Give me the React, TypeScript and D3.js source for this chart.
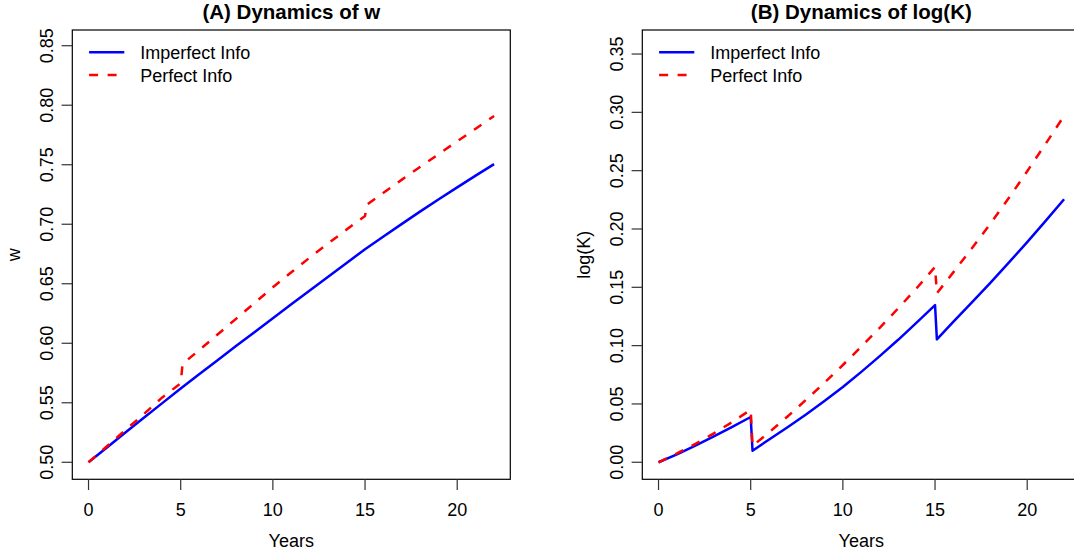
import React from "react";
import * as d3 from "d3";

// ---------- data ----------
const yearsSmooth = [0, 1, 2, 3, 4, 5, 6, 7, 8, 9, 10, 11, 12, 13, 14, 15, 16, 17, 18, 19, 20, 21, 22];
const yearsJump = [0, 1, 2, 3, 4, 5, 5.1, 6, 7, 8, 9, 10, 11, 12, 13, 14, 15, 15.1, 16, 17, 18, 19, 20, 21, 22];

const imperfectW = [0.5, 0.5125, 0.525, 0.5374, 0.5497, 0.562, 0.5739, 0.5858, 0.5976, 0.6093, 0.621, 0.6327,
  0.6443, 0.6559, 0.6675, 0.679, 0.6897, 0.7003, 0.7108, 0.721, 0.731, 0.7408, 0.7505];
const perfectW = [0.5, 0.5135, 0.527, 0.5405, 0.5545, 0.5664, 0.5826, 0.5942, 0.6074, 0.6205, 0.6338, 0.647,
  0.6596, 0.672, 0.6839, 0.6955, 0.707, 0.7165, 0.7265, 0.7375, 0.7483, 0.759, 0.7697, 0.7803, 0.791];

const imperfectK = [0, 0.0068, 0.0143, 0.0222, 0.0304, 0.0388, 0.0099, 0.0195, 0.03, 0.041, 0.0525, 0.0645,
  0.0775, 0.091, 0.105, 0.1197, 0.1348, 0.1054, 0.1205, 0.137, 0.1538, 0.1711, 0.1888, 0.2069, 0.2255];
const perfectK = [0, 0.0076, 0.0158, 0.0248, 0.0345, 0.045, 0.014, 0.0257, 0.0393, 0.0535, 0.0682, 0.0834,
  0.0991, 0.1153, 0.132, 0.1492, 0.1675, 0.1449, 0.163, 0.1835, 0.2045, 0.2265, 0.2495, 0.273, 0.297];

const xTicks = [0, 5, 10, 15, 20];
const wTicks = [0.5, 0.55, 0.6, 0.65, 0.7, 0.75, 0.8, 0.85];
const kTicks = [0, 0.05, 0.1, 0.15, 0.2, 0.25, 0.3, 0.35];
const legendLabels = ["Imperfect Info", "Perfect Info"];

const FONT = "'Liberation Sans', Arial, Helvetica, sans-serif";
const TOP = 30;
const BOTTOM = 479.3;
const PLOT_W = 438;

type Series = { x: number[]; y: number[]; color: string; dash?: string };

function Panel(props: {
  left: number;
  title: string;
  ylab: string;
  yDomain: [number, number];
  yTicks: number[];
  series: Series[];
}) {
  const { left, title, ylab, yDomain, yTicks, series } = props;
  const x = d3.scaleLinear().domain([-0.88, 22.88]).range([left, left + PLOT_W]);
  const y = d3.scaleLinear().domain(yDomain).range([BOTTOM, TOP]);
  const line = d3
    .line<[number, number]>()
    .x((d) => x(d[0]))
    .y((d) => y(d[1]))
    .curve(d3.curveLinear);
  const cx = x(11);
  const cy = (TOP + BOTTOM) / 2;
  const clipId = "clip" + Math.round(left);
  return (
    <g>
      <defs>
        <clipPath id={clipId}>
          <rect x={left} y={TOP} width={PLOT_W} height={BOTTOM - TOP} />
        </clipPath>
      </defs>
      <text x={cx} y={19} textAnchor="middle" fontFamily={FONT} fontWeight="bold" fontSize={20.5}>
        {title}
      </text>
      <g clipPath={`url(#${clipId})`}>
        {series.map((s, i) => (
          <path
            key={i}
            d={line(s.x.map((t, j) => [t, s.y[j]] as [number, number])) || ""}
            fill="none"
            stroke={s.color}
            strokeWidth={2.5}
            strokeDasharray={s.dash}
            strokeLinejoin="round"
          />
        ))}
      </g>
      <rect x={left} y={TOP} width={PLOT_W} height={BOTTOM - TOP} fill="none" stroke="#000" strokeWidth={1.2} />
      {xTicks.map((t) => (
        <g key={"x" + t}>
          <line x1={x(t)} x2={x(t)} y1={BOTTOM} y2={BOTTOM + 10.7} stroke="#333" strokeWidth={1.2} />
          <text x={x(t)} y={515.5} textAnchor="middle" fontFamily={FONT} fontSize={18}>
            {t}
          </text>
        </g>
      ))}
      {yTicks.map((v) => (
        <g key={"y" + v}>
          <line x1={left - 10.7} x2={left} y1={y(v)} y2={y(v)} stroke="#333" strokeWidth={1.2} />
          <text
            transform={`translate(${left - 19.5},${y(v)}) rotate(-90)`}
            textAnchor="middle"
            fontFamily={FONT}
            fontSize={18}
          >
            {v.toFixed(2)}
          </text>
        </g>
      ))}
      <text x={cx} y={547} textAnchor="middle" fontFamily={FONT} fontSize={18}>
        Years
      </text>
      <text transform={`translate(${left - 52},${cy}) rotate(-90)`} textAnchor="middle" fontFamily={FONT} fontSize={18}>
        {ylab}
      </text>
      {series.map((s, i) => {
        const ly = 52.3 + i * 22.7;
        return (
          <g key={"lg" + i}>
            <line x1={left + 16.8} x2={left + 52} y1={ly} y2={ly} stroke={s.color} strokeWidth={2.5} strokeDasharray={s.dash} />
            <text x={left + 68} y={ly + 6.5} fontFamily={FONT} fontSize={18}>
              {legendLabels[i]}
            </text>
          </g>
        );
      })}
    </g>
  );
}

export default function App() {
  const dash = "9 9.5";
  return (
    <svg
      width={1074}
      height={554}
      viewBox="0 0 1074 554"
      style={{ position: "absolute", left: 0, top: 0, background: "#fff" }}
    >
      <rect width={1074} height={554} fill="#fff" />
      <Panel
        left={72.3}
        title="(A) Dynamics of w"
        ylab="w"
        yDomain={[0.4857, 0.8632]}
        yTicks={wTicks}
        series={[
          { x: yearsSmooth, y: imperfectW, color: "#0000FF" },
          { x: yearsJump, y: perfectW, color: "#FF0000", dash },
        ]}
      />
      <Panel
        left={642.3}
        title="(B) Dynamics of log(K)"
        ylab="log(K)"
        yDomain={[-0.0146, 0.3706]}
        yTicks={kTicks}
        series={[
          { x: yearsJump, y: imperfectK, color: "#0000FF" },
          { x: yearsJump, y: perfectK, color: "#FF0000", dash },
        ]}
      />
    </svg>
  );
}
